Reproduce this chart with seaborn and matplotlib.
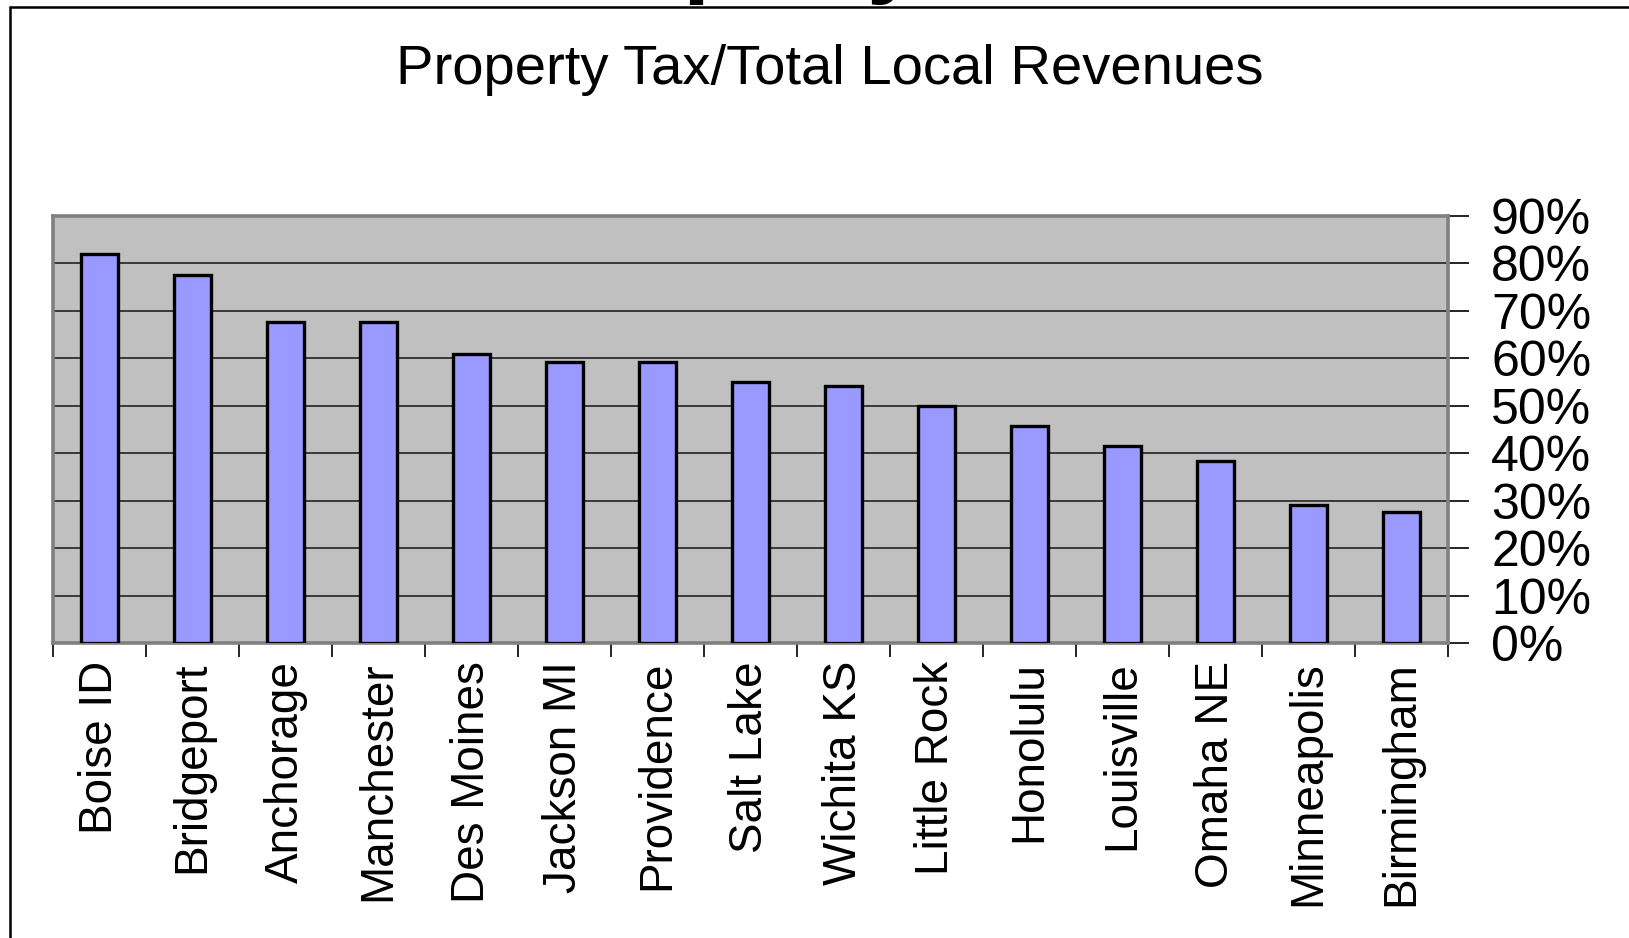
import matplotlib
matplotlib.use("Agg")
import matplotlib.pyplot as plt
import seaborn as sns
import pandas as pd
from matplotlib.ticker import FixedLocator, FuncFormatter
from matplotlib.lines import Line2D

cities = ["Boise ID", "Bridgeport", "Anchorage", "Manchester", "Des Moines",
          "Jackson MI", "Providence", "Salt Lake", "Wichita KS", "Little Rock",
          "Honolulu", "Louisville", "Omaha NE", "Minneapolis", "Birmingham"]
values = [81.9, 77.6, 67.6, 67.6, 60.9, 59.2, 59.2, 55.0, 54.1, 50.0,
          45.8, 41.6, 38.3, 29.1, 27.6]
y_ticks = [0, 10, 20, 30, 40, 50, 60, 70, 80, 90]
title = "Property Tax/Total Local Revenues"
slide_title = "Property Tax"

df = pd.DataFrame({"city": cities, "value": values})

sns.set_style("white")
plt.rcParams["font.family"] = ["Liberation Sans", "DejaVu Sans"]

fig = plt.figure(figsize=(16.29, 9.38), dpi=100)
ax = fig.add_axes([53 / 1629, 1 - 643 / 938, (1448 - 53) / 1629, (643 - 216) / 938])
ax.set_facecolor("#C0C0C0")

sns.barplot(data=df, x="city", y="value", color="#9999FF", edgecolor="black",
            linewidth=2.4, width=0.39, saturation=1, ax=ax, zorder=3)

ax.set_xlim(-0.5, len(cities) - 0.5)
ax.set_ylim(0, 90)
ax.set_xlabel("")
ax.set_ylabel("")

# y axis on the right
ax.yaxis.tick_right()
ax.yaxis.set_major_locator(FixedLocator(y_ticks))
ax.yaxis.set_major_formatter(FuncFormatter(lambda v, p: f"{v:.0f}%"))
ax.tick_params(axis="y", which="major", right=True, left=False, length=15,
               width=1.2, color="black", pad=16, labelsize=36, labelcolor="black",
               direction="out")
ax.yaxis.grid(True, color="#222222", linewidth=1.2)
ax.set_axisbelow(True)

# x axis: labels at centres, tick marks at category boundaries
ax.set_xticks(range(len(cities)))
ax.set_xticklabels(cities, rotation=90, va="top", ha="center")
ax.tick_params(axis="x", which="major", length=0, pad=13, labelsize=33,
               labelcolor="black", bottom=True)
ax.set_xticks([i - 0.5 for i in range(len(cities) + 1)], minor=True)
ax.tick_params(axis="x", which="minor", length=10, width=1.2, color="black",
               direction="out", bottom=True)

for s in ["left", "top", "right", "bottom"]:
    ax.spines[s].set_visible(True)
    ax.spines[s].set_color("#808080")
    ax.spines[s].set_linewidth(2.6)

fig.text(830 / 1629, 1 - 70 / 938, title, ha="center", va="center", fontsize=40.5,
         color="black")

# partially visible slide title above the frame
fig.text(0.5, 1 + 15 / 938, slide_title, ha="center", va="baseline",
         fontsize=70, fontweight="bold", color="black")

# outer frame lines
fig.add_artist(Line2D([10 / 1629, 1.0], [1 - 7 / 938, 1 - 7 / 938],
                      transform=fig.transFigure, color="black", linewidth=1.8))
fig.add_artist(Line2D([10 / 1629, 10 / 1629], [0.0, 1 - 7 / 938],
                      transform=fig.transFigure, color="black", linewidth=1.8))

fig.savefig("out.png", dpi=100, facecolor="white")
